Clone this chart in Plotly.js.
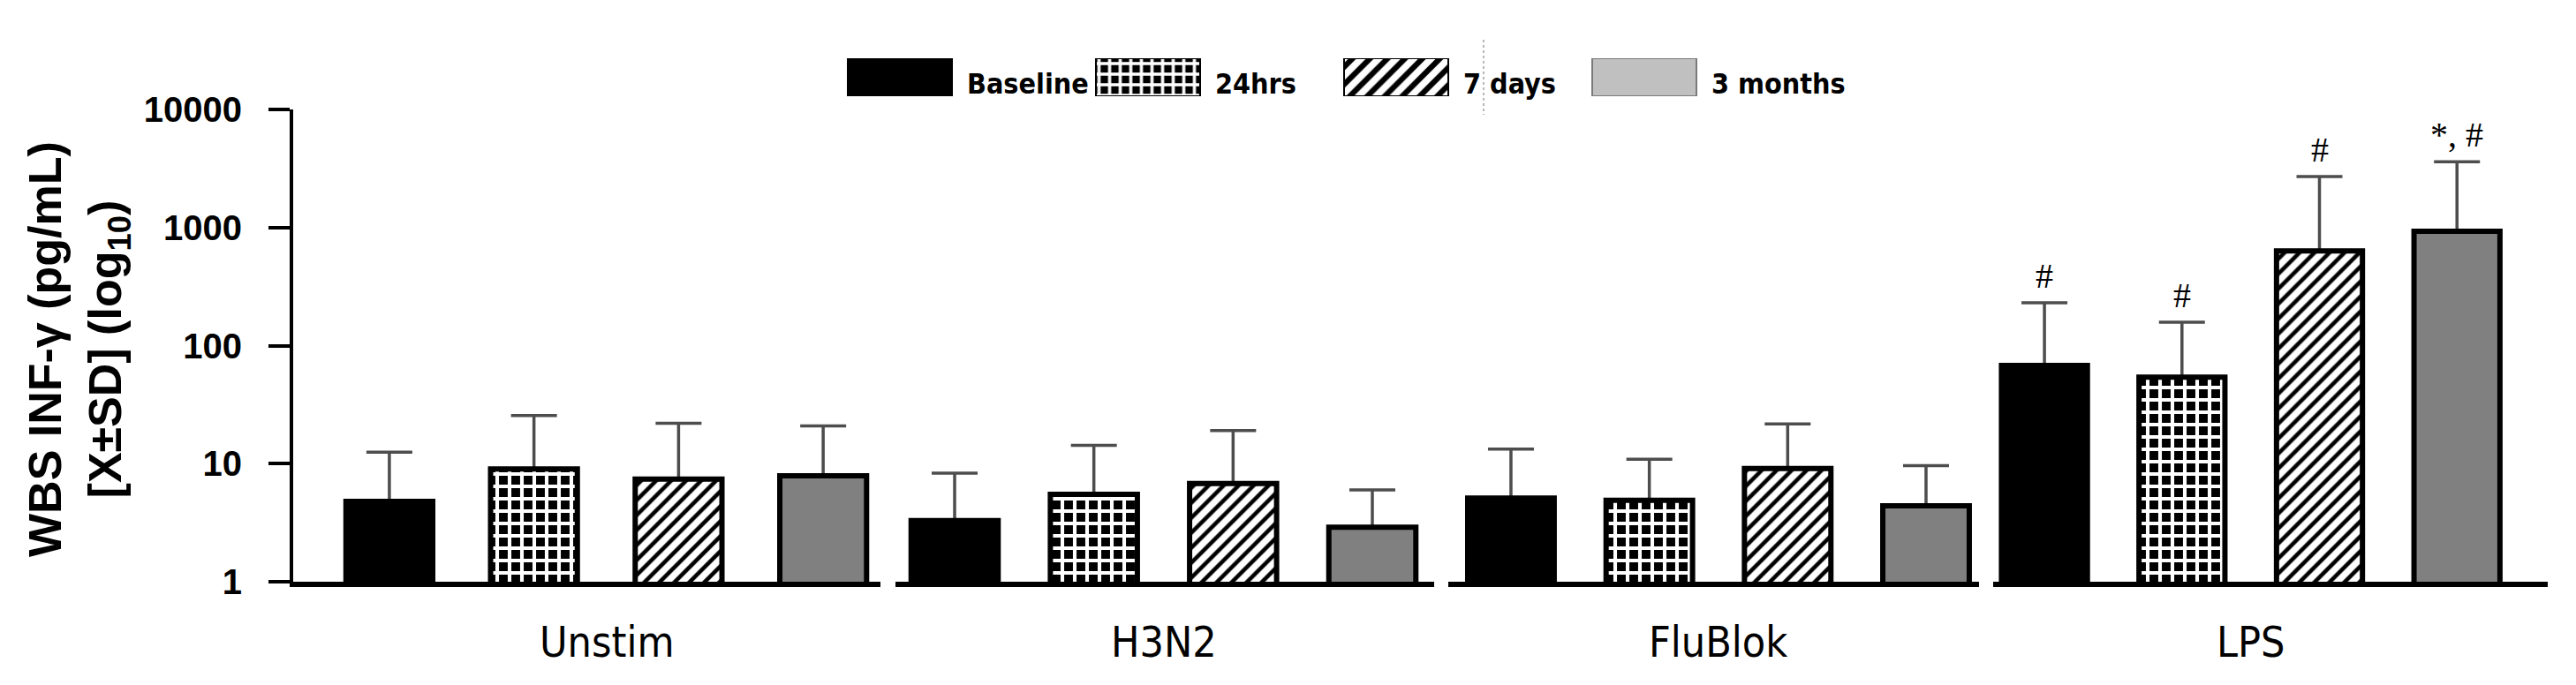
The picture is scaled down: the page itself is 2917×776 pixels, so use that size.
<!DOCTYPE html>
<html>
<head>
<meta charset="utf-8">
<script src="https://cdn.plot.ly/plotly-3.0.1.min.js"></script>
<style>
  html, body { margin: 0; padding: 0; background: white; }
</style>
</head>
<body>
<div id="chart"></div>
<script>
// Time points (one bar each per stimulus) and stimulus groups
const timepoints = ["Baseline", "24hrs", "7 days", "3 months"];
const groups = ["Unstim", "H3N2", "FluBlok", "LPS"];

// Mean IFN-γ (pg/mL) and upper SD
const unstimMean = [4.8, 9.0, 7.4, 7.9];
const unstimSd = [7.7, 16.6, 14.6, 13.0];
const h3n2Mean = [3.3, 5.5, 6.8, 2.9];
const h3n2Sd = [5.0, 8.8, 12.3, 3.1];
const flublokMean = [5.1, 4.9, 9.1, 4.4];
const flublokSd = [8.2, 6.0, 12.6, 5.2];
const lpsMean = [68, 54, 635, 930];
const lpsSd = [162, 104, 2065, 2670];

// significance marks over the LPS bars
const lpsMarks = ["#", "#", "#", "*, #"];

const yTicks = [1, 10, 100, 1000, 10000];

const W = 2917, H = 776;
const fx = (px) => px / W;
const fy = (px) => 1 - px / H;

// one small panel per stimulus, each with its own piece of baseline
const panels = [
  { x0: 332, x1: 997, range: [-0.665, 3.396], bw: 0.6 },
  { x0: 1014, x1: 1624, range: [-0.425, 3.444], bw: 0.625 },
  { x0: 1640, x1: 2241, range: [-0.453, 3.383], bw: 0.625 },
  { x0: 2257, x1: 2885, range: [-0.373, 3.66], bw: 0.625 },
];
const means = [unstimMean, h3n2Mean, flublokMean, lpsMean];
const sds = [unstimSd, h3n2Sd, flublokSd, lpsSd];

// look of each time point: solid black, checker, hatch, solid grey
const barStyles = [
  { color: "black" },
  { color: "black", pattern: { shape: "+", bgcolor: "black", fgcolor: "white", size: 14, solidity: 0.5, fillmode: "replace" } },
  { color: "black", pattern: { shape: "/", bgcolor: "white", fgcolor: "black", size: 12, solidity: 0.38, fillmode: "replace" } },
  { color: "#808080" },
];
const swatchStyles = [
  { color: "black", line: "black" },
  { color: "black", line: "black", pattern: { shape: "+", bgcolor: "black", fgcolor: "white", size: 12, solidity: 0.5, fillmode: "replace" } },
  { color: "black", line: "black", pattern: { shape: "/", bgcolor: "white", fgcolor: "black", size: 14, solidity: 0.45, fillmode: "replace" } },
  { color: "#c0c0c0", line: "#7a7a7a" },
];

const tickFont = { family: "Liberation Sans, Arial, sans-serif", size: 40, color: "black", weight: "bold" };
const groupFont = { family: "DejaVu Sans Condensed, Liberation Sans Narrow, sans-serif", size: 48, color: "black" };
const legendFont = { family: "DejaVu Sans Condensed, Liberation Sans Narrow, sans-serif", size: 32, color: "black", weight: "bold" };
const markFont = { family: "Liberation Serif, Times New Roman, serif", size: 40, color: "black" };

var data = [];
var layout = {
  width: W,
  height: H,
  margin: { l: 0, r: 0, t: 0, b: 0 },
  paper_bgcolor: "white",
  plot_bgcolor: "rgba(0,0,0,0)",
  barmode: "overlay",
  showlegend: false,
  yaxis: {
    type: "log",
    range: [0, 4],
    domain: [fy(659), fy(124)],
    anchor: "x",
    tickvals: yTicks,
    ticktext: yTicks.map(String),
    ticks: "outside",
    ticklen: 24,
    tickwidth: 4,
    tickcolor: "black",
    ticklabelstandoff: 22,
    showline: true,
    linewidth: 4,
    linecolor: "black",
    showgrid: false,
    zeroline: false,
    tickfont: tickFont,
  },
  annotations: [],
  shapes: [
    // faint dotted guide left in the original legend
    {
      type: "line", xref: "paper", yref: "paper",
      x0: fx(1680), x1: fx(1680), y0: fy(45), y1: fy(130),
      line: { color: "#b8b8b8", width: 2, dash: "dot" },
    },
  ],
};

panels.forEach((p, i) => {
  const xa = i === 0 ? "x" : "x" + (i + 1);
  const axName = i === 0 ? "xaxis" : "xaxis" + (i + 1);

  // invisible copy carrying the error bars, so the bars cover the lower cap
  data.push({
    type: "bar",
    x: timepoints,
    y: means[i],
    xaxis: xa,
    yaxis: "y",
    width: p.bw,
    marker: { color: "rgba(0,0,0,0)", line: { width: 0 } },
    error_y: {
      type: "data",
      symmetric: false,
      array: sds[i],
      arrayminus: timepoints.map(() => 0),
      color: "#4d4d4d",
      thickness: 3.5,
      width: 26,
    },
    hoverinfo: "skip",
  });

  // one visible trace per time point
  timepoints.forEach((t, j) => {
    const st = barStyles[j];
    const marker = { color: st.color, line: { color: "black", width: 6 } };
    if (st.pattern) marker.pattern = st.pattern;
    data.push({
      type: "bar",
      name: t,
      x: [t],
      y: [means[i][j]],
      xaxis: xa,
      yaxis: "y",
      width: p.bw,
      marker: marker,
    });
  });

  layout[axName] = {
    type: "category",
    domain: [fx(p.x0), fx(p.x1)],
    range: p.range,
    anchor: "y",
    showline: true,
    linewidth: 6,
    linecolor: "black",
    showticklabels: false,
    ticks: "",
    showgrid: false,
    zeroline: false,
  };

  layout.annotations.push({
    xref: xa, yref: "paper",
    x: 1.5, y: fy(727),
    text: groups[i],
    showarrow: false,
    xanchor: "center", yanchor: "middle",
    font: groupFont,
  });
});

// significance marks above the LPS error bars
lpsMarks.forEach((m, j) => {
  layout.annotations.push({
    xref: "x4", yref: "y",
    x: timepoints[j],
    y: Math.log10(lpsMean[j] + lpsSd[j]),
    text: m,
    showarrow: false,
    yanchor: "bottom",
    yshift: 6,
    font: markFont,
  });
});

// legend drawn as its own little panel so the swatches can be large
timepoints.forEach((t, j) => {
  const st = swatchStyles[j];
  const marker = { color: st.color, line: { color: st.line, width: 2 } };
  if (st.pattern) marker.pattern = st.pattern;
  data.push({
    type: "bar",
    name: t,
    x: [t],
    y: [1],
    base: 0,
    xaxis: "x5",
    yaxis: "y5",
    width: 0.42,
    marker: marker,
    hoverinfo: "skip",
  });
  layout.annotations.push({
    xref: "x5", yref: "paper",
    x: t, y: fy(95),
    xshift: 74,
    text: t,
    showarrow: false,
    xanchor: "left", yanchor: "middle",
    font: legendFont,
  });
});
layout.xaxis5 = { type: "category", categoryarray: timepoints, categoryorder: "array", domain: [fx(878.5), fx(2002.5)], range: [-0.5, 3.5], anchor: "y5", visible: false };
layout.yaxis5 = { domain: [fy(109), fy(66)], range: [0, 1], anchor: "x5", visible: false };

// y axis title
layout.annotations.push({
  xref: "paper", yref: "paper",
  x: fx(89), y: fy(396),
  text: "WBS INF-γ (pg/mL)<br>[X±SD] (log<sub>10</sub>)",
  textangle: -90,
  showarrow: false,
  xanchor: "center", yanchor: "middle",
  font: { family: "Liberation Sans, Arial, sans-serif", size: 52, color: "black", weight: "bold" },
});

var config = { displayModeBar: false, staticPlot: true };

Plotly.newPlot(document.getElementById("chart"), data, layout, config);
</script>
</body>
</html>
